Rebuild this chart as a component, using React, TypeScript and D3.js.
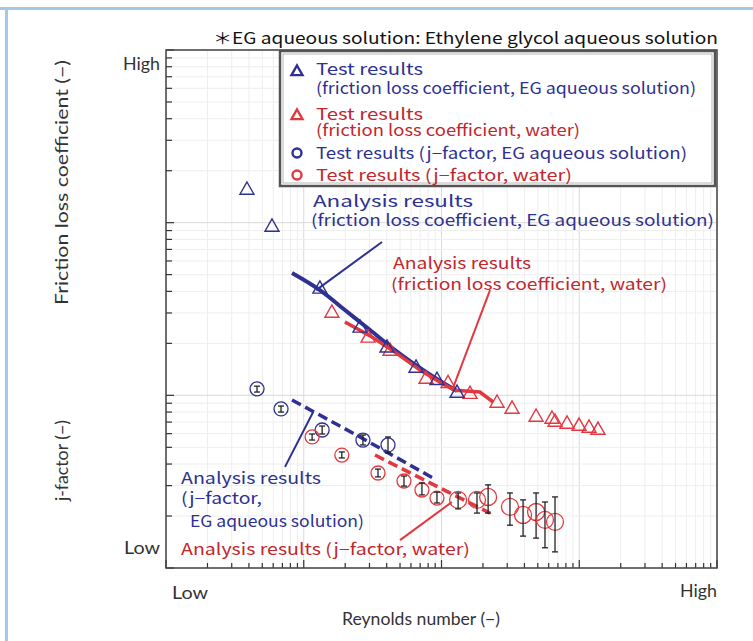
import React from "react";
import * as d3 from "d3";

// Reynolds number / coefficient values (arbitrary units)
const frictionEG = [[3.87, 156.7], [5.88, 95.7], [13.1, 41.9], [25.6, 24.9], [40.2, 19.1], [65.3, 14.6], [92.7, 12.4], [129.7, 10.45]];
const frictionWater = [[16.0, 30.4], [29.3, 21.8], [42.3, 18.3], [77.2, 12.6], [111.5, 11.9], [161, 10.3], [253, 9.15], [325, 8.45],
  [486, 7.59], [634, 7.39], [667, 7.1], [815, 6.92], [996, 6.73], [1177, 6.56], [1368, 6.38]];
const analysisFrictionEG = [[8.22, 51.1], [13.1, 40.7], [19.9, 31.2], [30.3, 23.9], [45.9, 18.3], [69.8, 14.4], [97.5, 12.1], [129.7, 10.6]];
const analysisFrictionWater = [[19.9, 26.6], [30.3, 22.1], [45.9, 17.8], [69.8, 14.0], [97.5, 11.9], [125, 10.7], [190, 10.45], [237, 9.15]];

// j-factor: [Re, value, low, high]
const jEG = [[4.58, 10.9, 10.45, 11.3], [6.84, 8.34, 8.0, 8.67], [13.6, 6.3, 5.97, 6.64], [26.9, 5.51, 5.16, 5.89], [40.9, 5.16, 4.63, 5.74]];
const jWater = [[11.5, 5.74, 5.51, 5.97], [18.9, 4.51, 4.34, 4.7], [34.6, 3.55, 3.37, 3.74], [53.4, 3.19, 2.98, 3.41],
  [72.1, 2.83, 2.65, 3.11], [92.7, 2.54, 2.38, 2.75], [132, 2.48, 2.2, 2.72], [181, 2.48, 2.08, 2.72], [218, 2.58, 2.08, 3.03],
  [314, 2.26, 1.77, 2.72], [391, 2.03, 1.53, 2.48], [486, 2.11, 1.49, 2.72], [564, 1.9, 1.31, 2.41], [667, 1.85, 1.24, 2.58]];
const analysisJEG = [[8.22, 9.4], [25.6, 5.74], [86.7, 3.32]];
const analysisJWater = [[32.9, 4.51], [82.5, 3.11], [225, 2.08]];

// leader lines from labels to curves
const leaderFrictionEG = [[37.0, 77.3], [12.3, 40.7]];
const leaderFrictionWater = [[225, 40.7], [119, 10.6]];
const leaderJEG = [[11.7, 8.0], [7.31, 3.85]];
const leaderJWater = [[119, 2.41], [50.0, 1.45]];

const xDomain = [1, 1e4];
const yDomain = [1, 1e3];

const BLUE = "#2e3192";
const RED = "#e2383f";
const RED_TEXT = "#c1272d";
const GREY = "#333";
const JP = "'Noto Sans CJK JP', 'Noto Sans', sans-serif";
const LAT = "Lato, 'Open Sans', sans-serif";

const x = d3.scaleLog().domain(xDomain).range([166, 717]);
const y = d3.scaleLog().domain(yDomain).range([568, 50]);

function logTicks(domain: number[]) {
  const out: { v: number; major: boolean }[] = [];
  for (let p = domain[0]; p < domain[1]; p *= 10) {
    for (let k = 1; k < 10; k++) out.push({ v: p * k, major: k === 1 });
  }
  out.push({ v: domain[1], major: true });
  return out;
}

const tri = (cx: number, cy: number, s = 7) => `M${cx},${cy - s}L${cx + s},${cy + s * 0.75}L${cx - s},${cy + s * 0.75}Z`;

export default function App() {
  const line = d3.line<number[]>().x((d) => x(d[0])).y((d) => y(d[1]));
  const smooth = d3.line<number[]>().x((d) => x(d[0])).y((d) => y(d[1])).curve(d3.curveCatmullRom);
  const xt = logTicks(xDomain);
  const yt = logTicks(yDomain);

  return (
    <svg width={753} height={641} style={{ position: "absolute", left: 0, top: 0, background: "#fff" }}>
      {/* frame of the figure */}
      <line x1={0} x2={753} y1={8.5} y2={8.5} stroke="#a7c7e7" strokeWidth={3} />
      <line x1={6.5} x2={6.5} y1={7} y2={641} stroke="#a7c7e7" strokeWidth={3} />

      {/* grid */}
      <g>
        {xt.map((t, i) => (
          <line key={"gx" + i} x1={x(t.v)} x2={x(t.v)} y1={50} y2={568} stroke={t.major ? "#d9d9d9" : "#eeeeee"} strokeWidth={1} />
        ))}
        {yt.map((t, i) => (
          <line key={"gy" + i} x1={166} x2={717} y1={y(t.v)} y2={y(t.v)} stroke={t.major ? "#d9d9d9" : "#eeeeee"} strokeWidth={1} />
        ))}
      </g>

      {/* ticks */}
      {xt.map((t, i) => (
        <line key={"tx" + i} x1={x(t.v)} x2={x(t.v)} y1={568} y2={568 - (t.major ? 8 : 5)} stroke={GREY} strokeWidth={1.2} />
      ))}
      {yt.map((t, i) => (
        <line key={"ty" + i} x1={166} x2={166 + (t.major ? 8 : 6)} y1={y(t.v)} y2={y(t.v)} stroke={GREY} strokeWidth={1.2} />
      ))}
      <rect x={166} y={50} width={551} height={518} fill="none" stroke="#444" strokeWidth={1.5} />

      {/* header note */}
      <text x={718} y={44} textAnchor="end" fontFamily={JP} fontSize={16} fill="#111" textLength={505} lengthAdjust="spacingAndGlyphs">
        ＊EG aqueous solution: Ethylene glycol aqueous solution
      </text>

      {/* axis labels */}
      <g fontFamily={LAT} fontSize={18} fill={GREY}>
        <text x={160} y={70} textAnchor="end" textLength={37} lengthAdjust="spacingAndGlyphs">High</text>
        <text x={160} y={554} textAnchor="end" textLength={36} lengthAdjust="spacingAndGlyphs">Low</text>
        <text x={172} y={599} textLength={36} lengthAdjust="spacingAndGlyphs">Low</text>
        <text x={717} y={597} textAnchor="end" textLength={37} lengthAdjust="spacingAndGlyphs">High</text>
        <text x={342} y={625} textLength={158} lengthAdjust="spacingAndGlyphs">Reynolds number (−)</text>
        <text transform="translate(68,305) rotate(-90)" textLength={245} lengthAdjust="spacingAndGlyphs">Friction loss coefficient (−)</text>
        <text transform="translate(68,501) rotate(-90)" textLength={81} lengthAdjust="spacingAndGlyphs">j-factor (−)</text>
      </g>

      {/* analysis curves */}
      <path d={smooth(analysisFrictionEG) || ""} fill="none" stroke={BLUE} strokeWidth={4} />
      <path d={line(analysisFrictionWater) || ""} fill="none" stroke={RED} strokeWidth={3.5} />
      <path d={line(analysisJEG) || ""} fill="none" stroke={BLUE} strokeWidth={3.5} strokeDasharray="10,5" />
      <path d={line(analysisJWater) || ""} fill="none" stroke={RED} strokeWidth={3.5} strokeDasharray="10,5" />

      {/* friction test markers */}
      {frictionWater.map((d, i) => (
        <path key={"fw" + i} d={tri(x(d[0]), y(d[1]))} fill="none" stroke={RED} strokeWidth={1.4} />
      ))}
      {frictionEG.map((d, i) => (
        <path key={"fe" + i} d={tri(x(d[0]), y(d[1]))} fill="none" stroke={BLUE} strokeWidth={1.4} />
      ))}

      {/* j-factor test markers with error bars */}
      {[...jEG.map((d) => ({ d, c: BLUE })), ...jWater.map((d) => ({ d, c: RED }))].map(({ d, c }, i) => {
        const cx = x(d[0]);
        const lo = y(d[2]);
        const hi = y(d[3]);
        const r = d[0] > 120 ? 8.5 : 7;
        return (
          <g key={"j" + i}>
            <circle cx={cx} cy={y(d[1])} r={r} fill="none" stroke={c} strokeWidth={1.3} />
            <line x1={cx} x2={cx} y1={lo} y2={hi} stroke="#222" strokeWidth={1.3} />
            <line x1={cx - 3} x2={cx + 3} y1={lo} y2={lo} stroke="#222" strokeWidth={1.3} />
            <line x1={cx - 3} x2={cx + 3} y1={hi} y2={hi} stroke="#222" strokeWidth={1.3} />
          </g>
        );
      })}

      {/* leaders */}
      <path d={line(leaderFrictionEG) || ""} stroke={BLUE} strokeWidth={2} fill="none" />
      <path d={line(leaderFrictionWater) || ""} stroke={RED} strokeWidth={2} fill="none" />
      <path d={line(leaderJEG) || ""} stroke={BLUE} strokeWidth={2} fill="none" />
      <path d={line(leaderJWater) || ""} stroke={RED} strokeWidth={2} fill="none" />

      {/* annotations */}
      <g fontFamily={JP} fontSize={16}>
        <text x={313} y={207} fill={BLUE} textLength={160} lengthAdjust="spacingAndGlyphs">Analysis results</text>
        <text x={311} y={226} fill={BLUE} textLength={403} lengthAdjust="spacingAndGlyphs">(friction loss coefficient, EG aqueous solution)</text>
        <text x={393} y={269} fill={RED_TEXT} textLength={138} lengthAdjust="spacingAndGlyphs">Analysis results</text>
        <text x={391} y={290} fill={RED_TEXT} textLength={276} lengthAdjust="spacingAndGlyphs">(friction loss coefficient, water)</text>
        <text x={181} y={484} fill={BLUE} textLength={140} lengthAdjust="spacingAndGlyphs">Analysis results</text>
        <text x={181} y={504} fill={BLUE} textLength={81} lengthAdjust="spacingAndGlyphs">(j−factor,</text>
        <text x={190} y={527} fill={BLUE} textLength={174} lengthAdjust="spacingAndGlyphs">EG aqueous solution)</text>
        <text x={181} y={555} fill={RED_TEXT} textLength={289} lengthAdjust="spacingAndGlyphs">Analysis results (j−factor, water)</text>
      </g>

      {/* legend */}
      <rect x={280} y={51} width={435} height={135} fill="#fff" stroke="#555" strokeWidth={2.5} />
      <rect x={283} y={54} width={429} height={129} fill="none" stroke="#888" strokeWidth={0.6} />
      <path d={tri(297, 71, 5.5)} fill="none" stroke={BLUE} strokeWidth={2.4} />
      <path d={tri(297, 115, 5.5)} fill="none" stroke={RED} strokeWidth={2.4} />
      <circle cx={297} cy={153} r={4.5} fill="none" stroke={BLUE} strokeWidth={2.4} />
      <circle cx={297} cy={175} r={4.5} fill="none" stroke={RED} strokeWidth={2.4} />
      <g fontFamily={JP} fontSize={16}>
        <text x={316} y={75} fill={BLUE} textLength={107} lengthAdjust="spacingAndGlyphs">Test results</text>
        <text x={316} y={94} fill={BLUE} textLength={380} lengthAdjust="spacingAndGlyphs">(friction loss coefficient, EG aqueous solution)</text>
        <text x={316} y={120} fill={RED_TEXT} textLength={107} lengthAdjust="spacingAndGlyphs">Test results</text>
        <text x={316} y={136} fill={RED_TEXT} textLength={264} lengthAdjust="spacingAndGlyphs">(friction loss coefficient, water)</text>
        <text x={316} y={159} fill={BLUE} textLength={371} lengthAdjust="spacingAndGlyphs">Test results (j−factor, EG aqueous solution)</text>
        <text x={316} y={181} fill={RED_TEXT} textLength={256} lengthAdjust="spacingAndGlyphs">Test results (j−factor, water)</text>
      </g>
    </svg>
  );
}
